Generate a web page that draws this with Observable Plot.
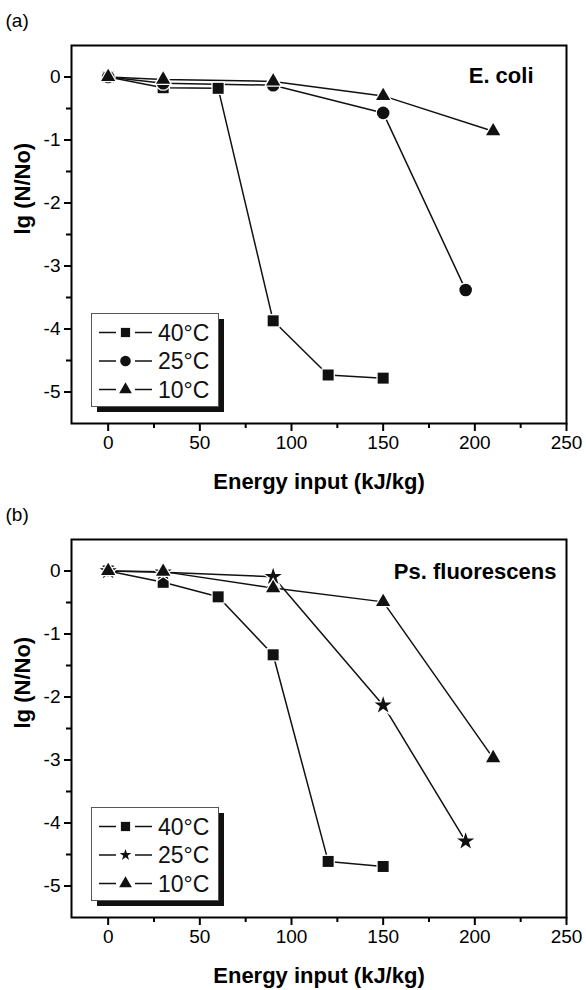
<!DOCTYPE html>
<html><head><meta charset="utf-8">
<script src="https://cdn.jsdelivr.net/npm/d3@7"></script>
<script src="https://cdn.jsdelivr.net/npm/@observablehq/plot@0.6"></script>
<style>
body{margin:0;background:#fff;font-family:"Liberation Sans",Arial,sans-serif;}
.panel{position:relative;width:586px;height:494px;overflow:visible;}
</style></head><body>
<div id="a" class="panel"></div><div id="b" class="panel"></div>
<script>
// Energy input (kJ/kg) per series
const energy40 = [0, 30, 60, 90, 120, 150];
const energy25 = [0, 30, 90, 150, 195];
const energy10 = [0, 30, 90, 150, 210];
// (a) E. coli, lg(N/No)
const ecoli40 = [0, -0.17, -0.18, -3.87, -4.73, -4.78];
const ecoli25 = [0, -0.10, -0.13, -0.57, -3.38];
const ecoli10 = [0, -0.04, -0.07, -0.30, -0.86];
// (b) Ps. fluorescens, lg(N/No)
const psf40 = [0, -0.18, -0.41, -1.33, -4.61, -4.69];
const psf25 = [0, -0.02, -0.09, -2.13, -4.29];
const psf10 = [0, -0.01, -0.27, -0.49, -2.97];
// labels and ticks
const seriesLabels = ["40°C", "25°C", "10°C"];
const xTicks = [0, 50, 100, 150, 200, 250];
const xMinorTicks = [25, 75, 125, 175, 225];
const yTicks = [0, -1, -2, -3, -4, -5];
const yMinorTicks = [-0.5, -1.5, -2.5, -3.5, -4.5];
const xLabel = "Energy input (kJ/kg)";
const yLabel = "lg (N/No)";

const toRows = (xs, ys) => xs.map((x, i) => ({x, y: ys[i]}));

function panel(el, tag, title, titleDx, titleDy, series) {
  const marks = [
    Plot.frame({stroke: "black", strokeWidth: 2}),
    Plot.axisX(xTicks, {tickSize: 8, strokeWidth: 2, tickPadding: 4, fontSize: 19, label: null, tickFormat: d => String(d)}),
    Plot.axisX(xMinorTicks, {tickSize: 5, strokeWidth: 2, text: null, label: null}),
    Plot.axisY(yTicks, {tickSize: 7, strokeWidth: 2, tickPadding: 4, fontSize: 19, label: null, tickFormat: d => String(d)}),
    Plot.axisY(yMinorTicks, {tickSize: 5, strokeWidth: 2, text: null, label: null}),
    Plot.text([tag], {frameAnchor: "top-left", textAnchor: "start", lineAnchor: "middle", dx: -66, dy: -25, fontSize: 19}),
    Plot.text([title], {frameAnchor: "top-right", textAnchor: "end", lineAnchor: "middle", dx: titleDx, dy: titleDy, fontSize: 22, fontWeight: "bold"}),
    Plot.text([xLabel], {frameAnchor: "bottom", lineAnchor: "middle", dy: 58, fontSize: 22, fontWeight: "bold"}),
    Plot.text([yLabel], {frameAnchor: "left", rotate: -90, lineAnchor: "middle", dx: -49, fontSize: 22, fontWeight: "bold"})
  ];
  for (const s of series) marks.push(Plot.line(s.rows, {x: "x", y: "y", stroke: "#111", strokeWidth: 1.5}));
  for (const s of series) marks.push(Plot.dot(s.rows, {x: "x", y: "y", symbol: s.symbol, r: s.r, fill: "#111", stroke: "white", strokeWidth: 2.5, paintOrder: "stroke"}));
  const chart = Plot.plot({
    width: 586, height: 494,
    marginTop: 45, marginBottom: 71, marginLeft: 71, marginRight: 20,
    x: {domain: [-20, 250]},
    y: {domain: [-5.5, 0.5]},
    style: {fontFamily: "'Liberation Sans', Arial, sans-serif", fontSize: "19px", color: "black", background: "transparent", overflow: "visible"},
    marks
  });
  el.appendChild(chart);

  // legend box
  const lg = d3.create("svg").attr("width", 140).attr("height", 105)
    .style("position", "absolute").style("left", "91px").style("top", "313px").style("overflow", "visible");
  lg.append("rect").attr("x", 6).attr("y", 6).attr("width", 127).attr("height", 93).attr("fill", "#111");
  lg.append("rect").attr("x", 0.5).attr("y", 0.5).attr("width", 127).attr("height", 93).attr("fill", "white").attr("stroke", "#555").attr("stroke-width", 1);
  const symMap = {square: [d3.symbolSquare, 85], circle: [d3.symbolCircle, 88], triangle: [d3.symbolTriangle, 70], star: [d3.symbolStar, 42]};
  series.forEach((s, i) => {
    const cy = 19.5 + i * 28.5;
    const g = lg.append("g");
    g.append("line").attr("x1", 8).attr("x2", 25).attr("y1", cy).attr("y2", cy).attr("stroke", "#111").attr("stroke-width", 1.5);
    g.append("line").attr("x1", 44).attr("x2", 61).attr("y1", cy).attr("y2", cy).attr("stroke", "#111").attr("stroke-width", 1.5);
    const [type, size] = symMap[s.symbol];
    g.append("path").attr("d", d3.symbol(type, size)()).attr("transform", `translate(34.5,${cy})`).attr("fill", "#111");
    g.append("text").attr("x", 67).attr("y", cy).attr("dy", "0.36em").attr("font-size", 23)
      .attr("font-family", "'Liberation Sans', Arial, sans-serif").attr("fill", "#111").text(s.label);
  });
  el.appendChild(lg.node());
}

panel(document.getElementById("a"), "(a)", "E. coli", -33, 30, [
  {label: seriesLabels[0], symbol: "square", r: 6.2, rows: toRows(energy40, ecoli40)},
  {label: seriesLabels[1], symbol: "circle", r: 6.3, rows: toRows(energy25, ecoli25)},
  {label: seriesLabels[2], symbol: "triangle", r: 5.3, rows: toRows(energy10, ecoli10)}
]);
panel(document.getElementById("b"), "(b)", "Ps. fluorescens", -10, 32, [
  {label: seriesLabels[0], symbol: "square", r: 6.2, rows: toRows(energy40, psf40)},
  {label: seriesLabels[1], symbol: "star", r: 5.4, rows: toRows(energy25, psf25)},
  {label: seriesLabels[2], symbol: "triangle", r: 5.3, rows: toRows(energy10, psf10)}
]);
</script>
</body></html>
